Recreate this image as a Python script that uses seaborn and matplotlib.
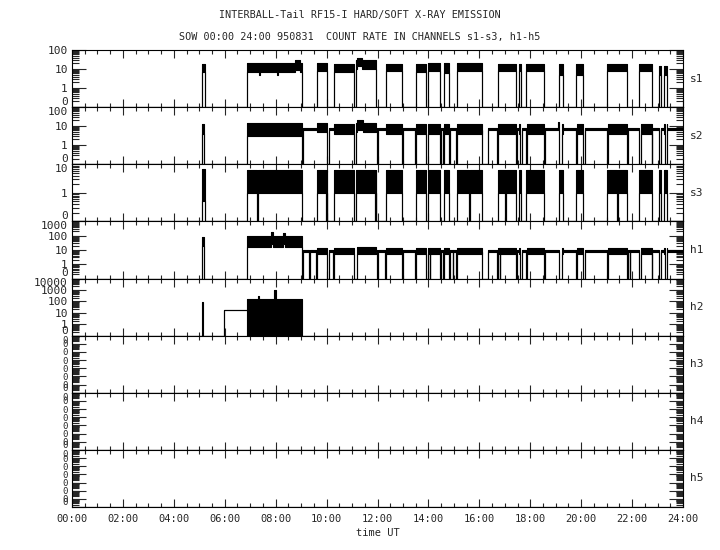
import math
import matplotlib
matplotlib.use("Agg")
import matplotlib.pyplot as plt
import seaborn as sns
from matplotlib.ticker import FixedLocator, FuncFormatter, MultipleLocator, NullFormatter

# ---------------- data (hours UT, count rates) ----------------
channels = ["s1", "s2", "s3", "h1", "h2", "h3", "h4", "h5"]
y_top = [100, 100, 10, 1000, 10000, 0.1, 0.1, 0.1]
y_floor = [0.1, 0.1, 0.1, 0.1, 0.1, 1e-8, 1e-8, 1e-8]

x_tick_labels = ["00:00", "02:00", "04:00", "06:00", "08:00", "10:00", "12:00",
                 "14:00", "16:00", "18:00", "20:00", "22:00", "24:00"]

# s1: active intervals with band (low, high) of count rate
s1_start = [5.09, 6.86, 9.64, 10.29, 11.16, 12.33, 13.51, 13.98, 14.61, 15.12, 16.73, 17.56,
            17.83, 19.13, 19.80, 21.02, 22.27, 23.06, 23.25, 8.75, 11.18, 7.35, 8.05]
s1_end = [5.22, 9.02, 10.03, 11.08, 11.94, 12.96, 13.90, 14.45, 14.81, 16.10, 17.44, 17.64,
          18.54, 19.29, 20.07, 21.80, 22.78, 23.14, 23.37, 8.95, 11.40, 7.40, 8.10]
s1_lo = [7, 7, 8, 7, 10, 8, 7, 8, 6, 8, 8, 8, 8, 5, 5, 8, 8, 5, 5, 9, 14, 5, 5]
s1_hi = [18, 22, 22, 18, 30, 18, 18, 20, 20, 20, 18, 18, 18, 18, 18, 18, 18, 15, 15, 30, 40, 22, 22]

# s2: bursts, continuous baseline after 09:00 with bands and dropouts
s2_start = [5.09, 6.86, 9.64, 10.29, 11.16, 12.33, 13.51, 13.98, 14.61, 15.12, 16.73, 17.56,
            17.83, 19.13, 19.80, 21.02, 22.27, 23.06, 23.25, 11.18, 19.10]
s2_end = [5.20, 9.02, 10.03, 11.08, 11.94, 12.96, 13.90, 14.45, 14.81, 16.10, 17.44, 17.64,
          18.54, 19.29, 20.07, 21.80, 22.78, 23.14, 23.37, 11.45, 19.18]
s2_lo = [4, 3, 5, 4, 5, 4, 4, 4, 4, 4, 4, 4, 4, 4, 4, 4, 4, 4, 4, 6, 6]
s2_hi = [13, 14, 15, 13, 15, 13, 13, 13, 13, 13, 13, 13, 13, 13, 13, 13, 13, 13, 13, 20, 16]
s2_base = [9.06, 24.0, 6.5, 8.5]
s2_drop_start = [9.02, 10.00, 11.08, 11.97, 12.96, 13.49, 13.90, 14.45, 14.58, 14.81, 15.10,
                 16.12, 16.70, 17.44, 17.60, 17.82, 18.54, 19.13, 19.80, 20.07, 21.02, 21.80,
                 22.27, 22.78, 23.06, 23.30]
s2_drop_end = [9.06, 10.10, 11.16, 12.03, 13.00, 13.53, 13.98, 14.50, 14.63, 14.85, 15.14,
               16.35, 16.75, 17.48, 17.66, 17.86, 18.58, 19.24, 19.83, 20.14, 21.05, 21.84,
               22.34, 22.80, 23.14, 23.36]

# s3: dense oscillation bands
s3_start = [5.09, 6.86, 9.64, 10.29, 11.16, 12.33, 13.51, 13.98, 14.61, 15.12, 16.73, 17.56,
            17.83, 19.13, 19.80, 21.02, 22.27, 23.06, 23.25]
s3_end = [5.22, 9.02, 10.03, 11.08, 11.94, 12.96, 13.90, 14.45, 14.81, 16.10, 17.44, 17.64,
          18.54, 19.29, 20.07, 21.80, 22.78, 23.14, 23.37]
s3_lo = [0.5, 1, 1, 1, 1, 1, 1, 1, 1, 1, 1, 1, 1, 1, 1, 1, 1, 1, 1]
s3_hi = [7, 6.5, 6.5, 6.5, 6.5, 6.5, 6.5, 6.5, 6.5, 6.5, 6.5, 6.5, 6.5, 6.5, 6.5, 6.5, 6.5, 6.5, 6.5]
s3_drop_start = [7.28, 9.98, 11.90, 15.60, 17.00, 21.40]
s3_drop_end = [7.31, 10.01, 11.93, 15.63, 17.03, 21.43]

# h1
h1_start = [5.09, 6.86, 7.80, 8.30, 9.64, 10.29, 11.16, 12.33, 13.51, 13.98, 14.61, 15.12,
            16.73, 17.56, 17.83, 19.13, 19.80, 21.02, 22.27, 23.06, 23.25]
h1_end = [5.20, 9.02, 7.90, 8.38, 10.03, 11.08, 11.94, 12.96, 13.90, 14.45, 14.81, 16.10,
          17.44, 17.64, 18.54, 19.29, 20.07, 21.80, 22.78, 23.14, 23.37]
h1_lo = [20, 16, 25, 25, 5, 5, 5, 5, 5, 5, 5, 5, 5, 5, 5, 5, 5, 5, 5, 5, 5]
h1_hi = [80, 90, 180, 150, 14, 14, 15, 14, 14, 14, 14, 14, 14, 14, 14, 14, 14, 14, 14, 14, 14]
h1_base = [9.06, 24.0, 7.5, 10.0]
h1_drop_start = [9.02, 9.30, 9.60, 10.00, 10.27, 11.08, 11.97, 12.29, 12.96, 13.49, 13.90,
                 14.05, 14.45, 14.58, 14.81, 14.95, 15.10, 16.12, 16.70, 16.80, 17.44,
                 17.60, 17.82, 18.54, 19.13, 19.80, 20.07, 21.02, 21.80, 21.90, 22.27,
                 22.78, 23.06, 23.30]
h1_drop_end = [9.07, 9.33, 9.64, 10.10, 10.30, 11.18, 12.03, 12.32, 13.00, 13.53, 13.98,
               14.08, 14.50, 14.63, 14.85, 14.98, 15.14, 16.35, 16.75, 16.83, 17.48,
               17.66, 17.86, 18.58, 19.24, 19.83, 20.14, 21.05, 21.84, 21.93, 22.34,
               22.80, 23.14, 23.36]

# h2
h2_start = [5.09, 5.98, 6.86, 7.30, 7.95]
h2_end = [5.13, 6.86, 9.02, 7.36, 8.00]
h2_lo = [0.1, 19, 0.1, 0.1, 0.1]
h2_hi = [90, 19, 150, 300, 1000]

bands = {
    "s1": (s1_start, s1_end, s1_lo, s1_hi, None, [], []),
    "s2": (s2_start, s2_end, s2_lo, s2_hi, s2_base, s2_drop_start, s2_drop_end),
    "s3": (s3_start, s3_end, s3_lo, s3_hi, None, s3_drop_start, s3_drop_end),
    "h1": (h1_start, h1_end, h1_lo, h1_hi, h1_base, h1_drop_start, h1_drop_end),
    "h2": (h2_start, h2_end, h2_lo, h2_hi, None, [], []),
    "h3": ([], [], [], [], None, [], []),
    "h4": ([], [], [], [], None, [], []),
    "h5": ([], [], [], [], None, [], []),
}


def build(floor, st, en, lo, hi, base, dst, den):
    segs = ([tuple(base)] if base else []) + list(zip(st, en, lo, hi))
    drops = list(zip(dst, den))
    pts = {0.0, 24.0}
    for s, e, _, _ in segs:
        pts |= {s, e}
    for s, e in drops:
        pts |= {s, e}
    pts = sorted(pts)
    T, L, H = [], [], []
    for a, b in zip(pts[:-1], pts[1:]):
        m = 0.5 * (a + b)
        l = h = floor
        for s, e, sl, sh in segs:
            if s <= m < e:
                l, h = sl, sh
        for s, e in drops:
            if s <= m < e:
                l = h = floor
        T.append(a); L.append(l); H.append(h)
    T.append(24.0); L.append(L[-1]); H.append(H[-1])
    return T, L, H


# ---------------- style ----------------
sns.set_style("white")
plt.rcParams["font.family"] = ["DejaVu Sans Mono", "DejaVu Sans"]
plt.rcParams["axes.linewidth"] = 0.8

fig = plt.figure(figsize=(7.2, 5.5), dpi=100)
left, width = 72 / 720, 611 / 720
top_px, ph = 50, 457 / 8

fmt = FuncFormatter(lambda v, p: str(int(round(v))) if v >= 1 else "0")

for i, ch in enumerate(channels):
    bottom = 1 - (top_px + (i + 1) * ph) / 550
    ax = fig.add_axes([left, bottom, width, ph / 550])
    floor, top = y_floor[i], y_top[i]
    st, en, lo, hi, base, dst, den = bands[ch]
    T, L, H = build(floor, st, en, lo, hi, base, dst, den)
    ax.fill_between(T, L, H, step="post", color="black", lw=0)
    sns.lineplot(x=T, y=H, ax=ax, color="black", lw=0.8, drawstyle="steps-post",
                 estimator=None, sort=False)
    sns.lineplot(x=T, y=L, ax=ax, color="black", lw=0.8, drawstyle="steps-post",
                 estimator=None, sort=False)
    ax.set_yscale("log")
    ax.set_ylim(floor, top)
    ax.set_xlim(0, 24)
    d0, d1 = int(round(math.log10(floor))), int(round(math.log10(top)))
    majors = [10.0 ** d for d in range(d0, d1 + 1)]
    minors = [k * 10.0 ** d for d in range(d0, d1) for k in range(2, 10)]
    ax.yaxis.set_major_locator(FixedLocator(majors))
    ax.yaxis.set_minor_locator(FixedLocator(minors))
    ax.yaxis.set_major_formatter(fmt)
    ax.yaxis.set_minor_formatter(NullFormatter())
    ax.xaxis.set_major_locator(MultipleLocator(2))
    ax.xaxis.set_minor_locator(MultipleLocator(0.5))
    ylsize = 8 if i < 5 else 6.5
    ax.tick_params(axis="y", which="major", direction="in", length=10, width=0.8,
                   left=True, right=True, labelsize=ylsize, pad=3)
    ax.tick_params(axis="y", which="minor", direction="in", length=5, width=0.8,
                   left=True, right=True)
    ax.tick_params(axis="x", which="major", direction="in", length=6, width=0.8,
                   top=True, bottom=True, labelsize=7.5, pad=5)
    ax.tick_params(axis="x", which="minor", direction="in", length=3, width=0.8,
                   top=True, bottom=True)
    if i == len(channels) - 1:
        ax.set_xticks(range(0, 25, 2))
        ax.set_xticklabels(x_tick_labels)
    else:
        ax.set_xticklabels([])
    ax.set_ylabel("")
    ax.set_xlabel("")
    # keep boundary labels from sitting exactly on top of each other
    ylabs = ax.get_yticklabels()
    ylabs[0].set_verticalalignment("bottom")
    if i > 0:
        ylabs[-1].set_verticalalignment("top")
    ax.text(1.012, 0.5, ch, transform=ax.transAxes, ha="left", va="center", fontsize=8)
    for s in ax.spines.values():
        s.set_visible(True)
        s.set_color("black")

fig.text(0.5, 1 - 15 / 550, "INTERBALL-Tail RF15-I HARD/SOFT X-RAY EMISSION",
         ha="center", va="center", fontsize=7.3)
fig.text(0.5, 1 - 37 / 550, "SOW 00:00 24:00 950831  COUNT RATE IN CHANNELS s1-s3, h1-h5",
         ha="center", va="center", fontsize=7.3)
fig.text(left + width / 2, 1 - 533 / 550, "time UT", ha="center", va="center", fontsize=7.5)

fig.savefig("out.png", dpi=100, facecolor="white")
